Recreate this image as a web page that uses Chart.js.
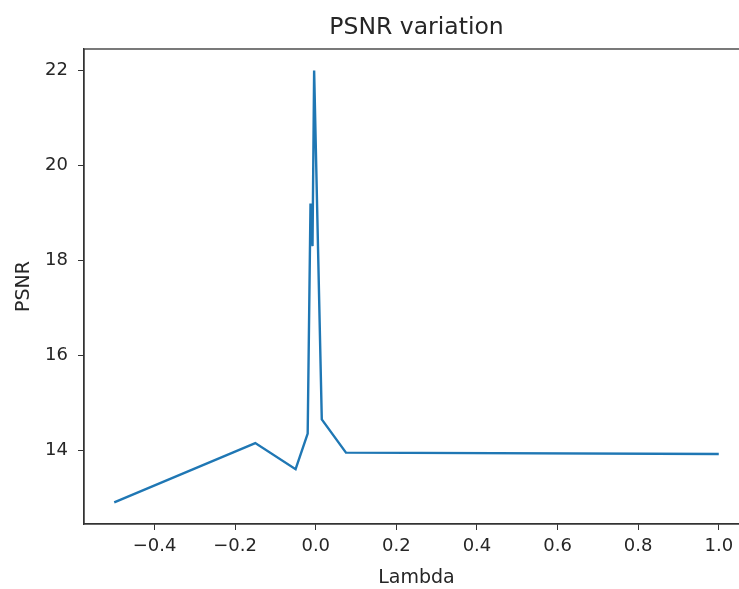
<!DOCTYPE html>
<html>
<head>
<meta charset="utf-8">
<script src="https://cdn.jsdelivr.net/npm/chart.js@4"></script>
<style>
    html, body { margin: 0; padding: 0; background: #fff; overflow: hidden; }
    #clip { width: 739px; height: 589px; overflow: hidden; position: relative; }
    #wrap { width: 760px; height: 589px; position: absolute; left: 0; top: 0; }
</style>
</head>
<body>
<div id="clip"><div id="wrap"><canvas id="psnrChart"></canvas></div></div>
<script>
// Dữ liệu
const lambdaValues = [-0.5, -0.15, -0.05, -0.02, -0.013, -0.008, -0.004, 0.015, 0.075, 1.0];
const psnrValues = [12.9, 14.15, 13.6, 14.35, 19.2, 18.3, 22.0, 14.65, 13.95, 13.92];
const xTicks = [-0.4, -0.2, 0.0, 0.2, 0.4, 0.6, 0.8, 1.0];
const yTicks = [14, 16, 18, 20, 22];

const textColor = '#262626';
const frameColor = '#333';

// Khung bao quanh vùng vẽ (giống matplotlib)
const framePlugin = {
    id: 'frame',
    afterDraw(chart) {
        const { ctx, chartArea } = chart;
        ctx.save();
        ctx.strokeStyle = frameColor;
        ctx.lineWidth = 1.3;
        ctx.strokeRect(chartArea.left, chartArea.top,
            chartArea.right - chartArea.left, chartArea.bottom - chartArea.top);
        ctx.restore();
    }
};

const points = lambdaValues.map((x, i) => ({ x: x, y: psnrValues[i] }));
const fmt = v => v.toFixed(1).replace('-', '\u2212');

const ctx = document.getElementById('psnrChart').getContext('2d');
new Chart(ctx, {
    type: 'scatter',
    data: {
        datasets: [{
            data: points,
            xAxisID: 'x',
            yAxisID: 'y',
            showLine: true,
            borderColor: '#1f77b4',
            borderWidth: 2.4,
            pointRadius: 0,
            tension: 0,
            fill: false
        }]
    },
    options: {
        responsive: true,
        maintainAspectRatio: false,
        animation: false,
        layout: { padding: { left: 0, right: 11, top: 0, bottom: 0 } },
        plugins: {
            legend: { display: false },
            tooltip: { enabled: false },
            title: { display: false }
        },
        scales: {
            x: {
                type: 'linear',
                position: 'bottom',
                min: -0.575,
                max: 1.075,
                afterBuildTicks: scale => { scale.ticks = xTicks.map(v => ({ value: v })); },
                afterFit: scale => { scale.height = 65; },
                grid: { drawOnChartArea: false, drawTicks: true, tickLength: 6, color: frameColor },
                border: { display: true, color: frameColor, width: 1.3 },
                ticks: {
                    color: textColor,
                    padding: 6,
                    maxRotation: 0,
                    font: { family: 'DejaVu Sans', size: 18 },
                    callback: v => fmt(v)
                },
                title: {
                    display: true,
                    text: 'Lambda',
                    color: textColor,
                    font: { family: 'DejaVu Sans', size: 19 },
                    padding: { top: 0, bottom: 0 }
                }
            },
            // Trục phụ phía trên chỉ để đặt tiêu đề giữa vùng vẽ
            titleAxis: {
                type: 'linear',
                axis: 'x',
                position: 'top',
                min: 0,
                max: 1,
                afterFit: scale => { scale.height = 49; },
                grid: { display: false },
                border: { display: false },
                ticks: { display: false },
                title: {
                    display: true,
                    text: 'PSNR variation',
                    color: textColor,
                    font: { family: 'DejaVu Sans', size: 23.5 },
                    padding: { top: 14, bottom: 0 }
                }
            },
            y: {
                min: 12.445,
                max: 22.455,
                afterBuildTicks: scale => { scale.ticks = yTicks.map(v => ({ value: v })); },
                afterFit: scale => { scale.width = 84; },
                grid: { drawOnChartArea: false, drawTicks: true, tickLength: 6, color: frameColor },
                border: { display: true, color: frameColor, width: 1.3 },
                ticks: {
                    color: textColor,
                    padding: 10,
                    font: { family: 'DejaVu Sans', size: 18 },
                    callback: v => String(v)
                },
                title: {
                    display: true,
                    text: 'PSNR',
                    color: textColor,
                    font: { family: 'DejaVu Sans', size: 19 },
                    padding: { top: 13, bottom: 0 }
                }
            }
        }
    },
    plugins: [framePlugin]
});
</script>
</body>
</html>
